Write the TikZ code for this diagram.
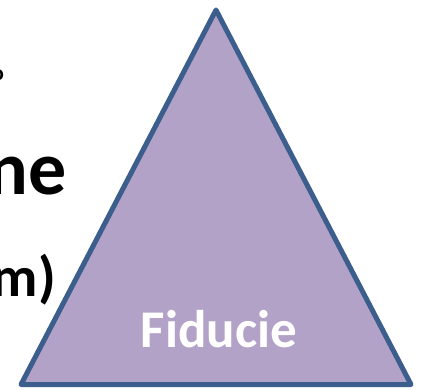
\documentclass[tikz,border=0pt]{standalone}
\usepackage{fontspec}
\setmainfont{Carlito}
\definecolor{trifill}{HTML}{B3A2C7}
\definecolor{tristroke}{HTML}{3B5E8D}
\begin{document}
\begin{tikzpicture}[x=1pt,y=-1pt,
  tri/.style={fill=trifill,draw=tristroke,line width=5pt,line join=round},
  lbl/.style={inner sep=0pt,outer sep=0pt,font=\bfseries}]
\useasboundingbox (0,0) rectangle (423,390);
\clip (0,0) rectangle (423,390);
\coordinate (apex) at (216,10);
\coordinate (bl) at (21,384.5);
\coordinate (br) at (411,384.5);
\draw[tri] (apex) -- (bl) -- (br) -- cycle;
\node[lbl,text=white,font=\bfseries\fontsize{53}{60}\selectfont,anchor=base] (fid) at (219,347) {Fiducie};
\node[lbl,font=\bfseries\fontsize{76}{80}\selectfont,anchor=base east] (ne) at (67,195) {ne};
\node[lbl,font=\bfseries\fontsize{57}{60}\selectfont,anchor=base east] (m) at (56,296) {m)};
\node[lbl,font=\bfseries\fontsize{22}{24}\selectfont,anchor=base east] (frag) at (4,81) {o};
\end{tikzpicture}
\end{document}
